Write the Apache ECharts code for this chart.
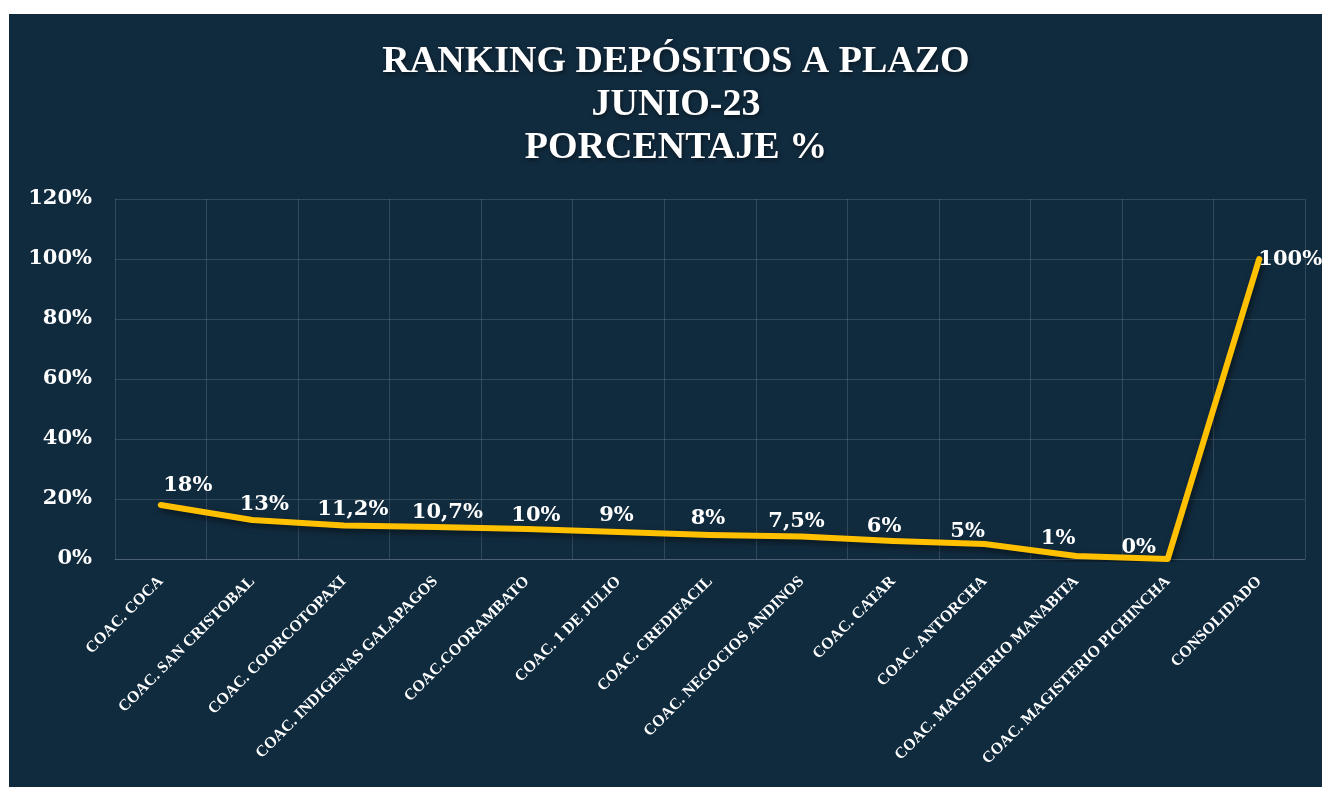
<!DOCTYPE html>
<html>
<head>
<meta charset="utf-8">
<script src="https://cdn.jsdelivr.net/npm/echarts@6/dist/echarts.min.js"></script>
<style>
  html, body { margin: 0; padding: 0; background: #ffffff; width: 1322px; height: 787px; overflow: hidden; }
  #chart { position: absolute; left: 9px; top: 14px; width: 1313px; height: 773px; background: #112b3e; }
</style>
</head>
<body>
<div id="chart"></div>
<script>
const titleLines = ['RANKING DEPÓSITOS A PLAZO', 'JUNIO-23', 'PORCENTAJE %'];
const categories = [
  'COAC. COCA', 'COAC. SAN CRISTOBAL', 'COAC. COORCOTOPAXI', 'COAC. INDIGENAS GALAPAGOS',
  'COAC.COORAMBATO', 'COAC. 1 DE JULIO', 'COAC. CREDIFACIL', 'COAC. NEGOCIOS ANDINOS',
  'COAC. CATAR', 'COAC. ANTORCHA', 'COAC. MAGISTERIO MANABITA', 'COAC. MAGISTERIO PICHINCHA',
  'CONSOLIDADO'
];
const values = [18, 13, 11.2, 10.7, 10, 9, 8, 7.5, 6, 5, 1, 0, 100];
const yTicks = [0, 20, 40, 60, 80, 100, 120];

// label placement (style only)
const labelOffsets = [
  [27, -19], [12, -15], [9, -16], [12, -14], [9, -13], [-2, -16], [-2, -16],
  [-5, -15], [-9, -14], [-17, -12], [-18, -17], [-29, -11], [31, 1]
];

const SERIF_T = '"Liberation Serif", serif';
const SERIF_N = '"DejaVu Serif", serif';

const chart = echarts.init(document.getElementById('chart'), null, { renderer: 'canvas' });
chart.setOption({
  backgroundColor: '#112b3e',
  animation: false,
  title: {
    text: titleLines.join('\n'),
    left: 662,
    top: 22,
    textAlign: 'center',
    textStyle: {
      color: '#ffffff', fontFamily: SERIF_T, fontWeight: 'bold', fontSize: 38,
      lineHeight: 43, textShadowColor: 'rgba(0,0,0,0.5)', textShadowBlur: 4, textShadowOffsetX: 1, textShadowOffsetY: 2
    }
  },
  grid: { left: 106, top: 185, right: 17, bottom: 228, containLabel: false },
  xAxis: {
    type: 'category',
    data: categories,
    boundaryGap: true,
    axisLine: { show: true, lineStyle: { color: 'rgba(255,255,255,0.14)', width: 1 } },
    axisTick: { show: false },
    splitLine: { show: true, interval: 0, lineStyle: { color: 'rgba(255,255,255,0.14)', width: 1 } },
    axisLabel: {
      interval: 0, rotate: 45, margin: 20, color: '#ffffff',
      fontFamily: SERIF_T, fontWeight: 'bold', fontSize: 16
    }
  },
  yAxis: {
    type: 'value',
    min: yTicks[0], max: yTicks[yTicks.length - 1], interval: 20,
    axisLine: { show: false },
    axisTick: { show: false },
    splitLine: { show: true, lineStyle: { color: 'rgba(255,255,255,0.14)', width: 1 } },
    axisLabel: {
      formatter: '{value}%', margin: 23, color: '#ffffff',
      fontFamily: SERIF_N, fontWeight: 'bold', fontSize: 21
    }
  },
  series: [{
    type: 'line',
    data: values.map((v, i) => ({
      value: v,
      label: { offset: labelOffsets[i] }
    })),
    smooth: false,
    showSymbol: true,
    symbol: 'circle',
    symbolSize: 0,
    lineStyle: {
      color: '#ffc000', width: 6, cap: 'round', join: 'round',
      shadowColor: 'rgba(0,0,0,0.55)', shadowBlur: 6, shadowOffsetX: 2, shadowOffsetY: 3
    },
    itemStyle: { color: '#ffc000' },
    label: {
      show: true,
      position: 'inside',
      color: '#ffffff',
      fontFamily: SERIF_N, fontWeight: 'bold', fontSize: 21,
      formatter: p => String(p.value).replace('.', ',') + '%'
    }
  }]
});
</script>
</body>
</html>
